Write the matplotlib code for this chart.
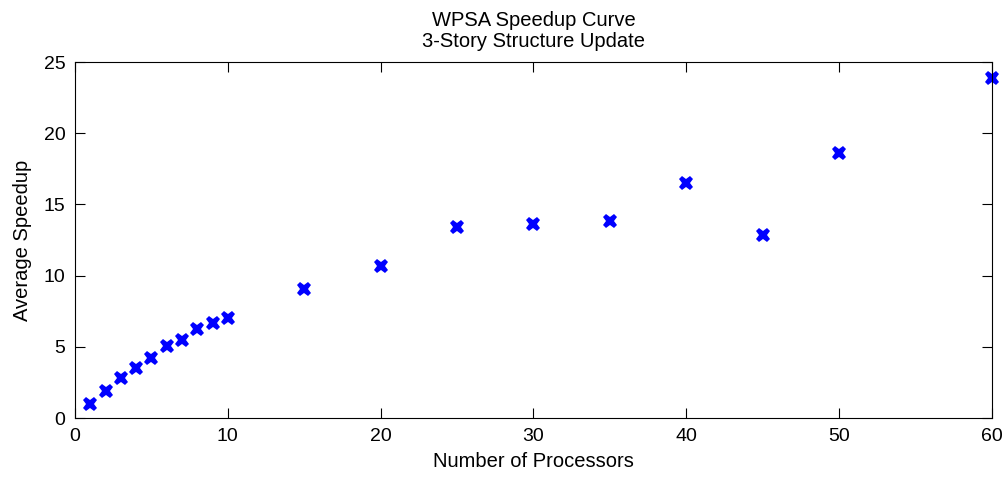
import matplotlib
matplotlib.use("Agg")
import matplotlib.pyplot as plt

plt.rcParams["font.family"] = ["Liberation Sans", "DejaVu Sans"]

# measured average speedup per processor count
processors = [1, 2, 3, 4, 5, 6, 7, 8, 9, 10, 15, 20, 25, 30, 35, 40, 45, 50, 60]
speedup = [0.99, 1.93, 2.82, 3.52, 4.23, 5.05, 5.45, 6.23, 6.69, 7.0,
           9.09, 10.68, 13.42, 13.6, 13.81, 16.52, 12.85, 18.63, 23.9]

x_ticks = [0, 10, 20, 30, 40, 50, 60]
y_ticks = [0, 5, 10, 15, 20, 25]

fig = plt.figure(figsize=(10.06, 4.78), dpi=100)
ax = fig.add_axes([0.0746, 0.1255, 0.9114, 0.7445])

ax.plot(processors, speedup, linestyle="none", marker="X", color="#0000ff",
        markersize=10.5, markeredgewidth=0, clip_on=False)

ax.set_xlim(0, 60)
ax.set_ylim(0, 25)
ax.set_xticks(x_ticks)
ax.set_yticks(y_ticks)
ax.tick_params(direction="in", length=7, width=0.8, top=True, right=True,
               labelsize=14, pad=7)
for spine in ax.spines.values():
    spine.set_linewidth(0.8)

ax.set_xlabel("Number of Processors", fontsize=14.5, labelpad=5)
ax.set_ylabel("Average Speedup", fontsize=14.5, labelpad=8)
ax.set_title("WPSA Speedup Curve\n3-Story Structure Update", fontsize=14.5,
             pad=11, linespacing=1.1)

fig.savefig("out.png", dpi=100, facecolor="white")
